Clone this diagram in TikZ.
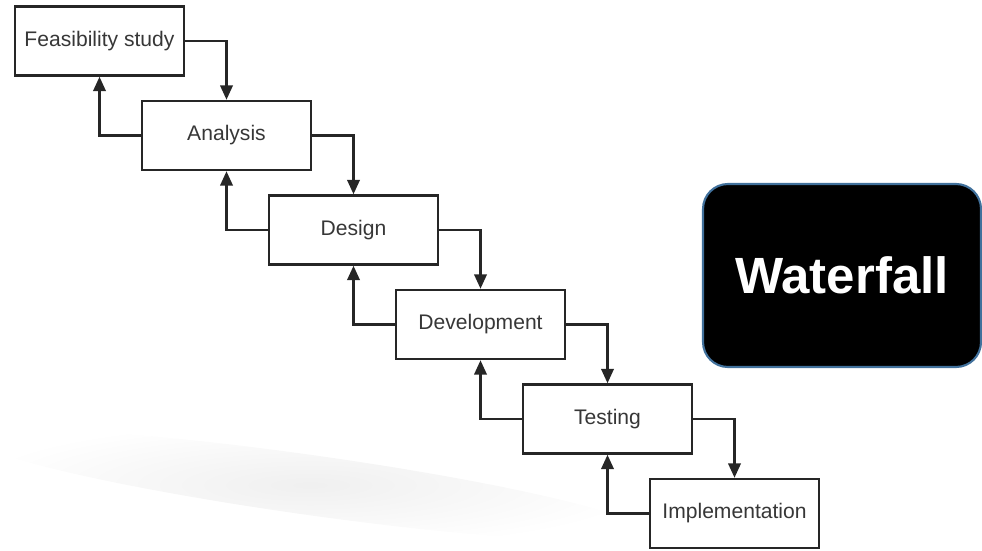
\documentclass[tikz,border=0pt]{standalone}
\usepackage{fontspec}
\setmainfont{Liberation Sans}
\usetikzlibrary{positioning,arrows.meta}
\definecolor{boxtext}{RGB}{55,55,55}
\definecolor{edgeblue}{RGB}{65,113,156}
\tikzset{
  phase/.style={draw=black!85, line width=1.4pt, minimum width=3.38cm, minimum height=1.38cm, inner sep=0pt, font=\fontsize{12}{14}\selectfont, text=boxtext},
  flow/.style={line width=1.4pt, draw=black!85, -{Triangle[length=2.9mm,width=2.5mm]}},
}
\begin{document}
\begin{tikzpicture}[auto,node distance=1.89cm and 2.54cm] % one step down and right
  \useasboundingbox (0,0) rectangle (19.64,-11);
  % faint smudge in the background
  \shade[inner color=gray!12, outer color=white, rotate around={-8:(6.2,-9.7)}] (6.2,-9.7) ellipse (6.8cm and 0.6cm);

  \node[phase] (FS) at (1.99,-0.82) {Feasibility study};
  \node[phase, on grid, below right=of FS] (AN) {Analysis};
  \node[phase, on grid, below right=of AN] (DS) {Design};
  \node[phase, on grid, below right=of DS] (DV) {Development};
  \node[phase, on grid, below right=of DV] (TS) {Testing};
  \node[phase, on grid, below right=of TS] (IM) {Implementation};

  \node[fill=black, draw=edgeblue, line width=1.2pt, rounded corners=0.5cm, minimum width=5.56cm, minimum height=3.66cm, text=white, font=\bfseries\fontsize{29}{33}\selectfont] (WF) at (16.84,-5.51) {Waterfall};

  \draw[flow] (FS.east) -| (AN.north);
  \draw[flow] (AN.east) -| (DS.north);
  \draw[flow] (DS.east) -| (DV.north);
  \draw[flow] (DV.east) -| (TS.north);
  \draw[flow] (TS.east) -| (IM.north);
  \draw[flow] (AN.west) -| (FS.south);
  \draw[flow] (DS.west) -| (AN.south);
  \draw[flow] (DV.west) -| (DS.south);
  \draw[flow] (TS.west) -| (DV.south);
  \draw[flow] (IM.west) -| (TS.south);
\end{tikzpicture}
\end{document}
